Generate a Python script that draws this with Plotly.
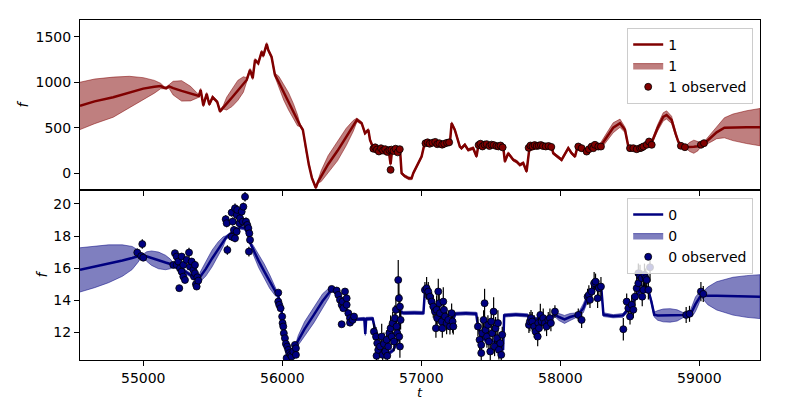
import plotly.graph_objects as go
from plotly.subplots import make_subplots

# ---------------- data: band "1" (top) ----------------
t_fit_1 = [54545, 54650, 54784, 54900, 55000, 55080, 55125, 55150, 55165, 55185, 55215, 55276, 55340, 55385,
           55400, 55413, 55432, 55456, 55475, 55499, 55516, 55532, 55552, 55576, 55600, 55640, 55680, 55720,
           55744, 55768, 55787, 55804, 55827, 55852, 55863, 55888, 55899, 55923, 55947, 55975, 56010, 56045,
           56080, 56110, 56127, 56148, 56170, 56191, 56213, 56241, 56257, 56280, 56330, 56397, 56460, 56510,
           56537, 56571, 56595, 56619, 56631, 56650, 56680, 56720, 56765, 56779, 56790, 56830, 56847, 56858,
           56880, 56910, 56930, 56942, 56978, 57002, 57026, 57080, 57150, 57206, 57218, 57241, 57277, 57289,
           57313, 57337, 57373, 57397, 57409, 57480, 57589, 57601, 57625, 57661, 57685, 57709, 57733, 57757,
           57776, 57850, 57937, 57949, 58009, 58057, 58081, 58105, 58120, 58180, 58240, 58290, 58321, 58380,
           58429, 58465, 58489, 58550, 58620, 58660, 58700, 58740, 58764, 58800, 58830, 58848, 58870, 58905,
           58930, 58960, 58990, 59011, 59033, 59052, 59090, 59124, 59180, 59242, 59340, 59436]
f_fit_1 = [740, 790, 836, 890, 930, 950, 958, 940, 935, 955, 935, 905, 875, 855,
           850, 916, 745, 872, 755, 836, 806, 784, 680, 726, 765, 835, 910, 975,
           1025, 1135, 1044, 1245, 1208, 1336, 1288, 1420, 1354, 1277, 1080, 1000, 890, 790,
           680, 580, 530, 477, 258, 93, -50, -159, -93, -30, 100, 247, 400, 520,
           587, 550, 441, 477, 367, 294, 270, 255, 255, 100, 255, 255, 257, 2,
           -30, -55, -55, 2, 112, 185, 345, 335, 325, 340, 550, 477, 294, 276,
           313, 257, 276, 184, 294, 305, 290, 129, 221, 148, 129, 93, 112, 20,
           258, 300, 290, 221, 148, 276, 221, 184, 270, 255, 285, 300, 367, 500,
           550, 477, 294, 280, 300, 350, 500, 620, 641, 587, 430, 349, 295, 290,
           290, 292, 298, 313, 325, 349, 400, 450, 500, 505, 507, 507]
sd_fit_1 = [260, 245, 220, 175, 120, 70, 30, 12, 12, 20, 75, 112, 80, 30,
            15, 15, 15, 15, 15, 15, 15, 15, 15, 20, 70, 100, 110, 85,
            25, 15, 15, 15, 15, 15, 15, 15, 15, 15, 20, 65, 85, 95,
            85, 60, 15, 15, 15, 15, 15, 15, 15, 60, 95, 110, 95, 60,
            20, 15, 15, 15, 15, 15, 15, 15, 15, 15, 15, 15, 15, 15,
            15, 15, 15, 15, 15, 15, 15, 15, 15, 15, 15, 15, 15, 15,
            15, 15, 15, 15, 15, 15, 15, 15, 15, 15, 15, 15, 15, 15,
            15, 15, 15, 15, 15, 15, 15, 15, 15, 20, 25, 35, 45, 55,
            45, 30, 15, 15, 15, 20, 35, 45, 45, 40, 25, 15, 15, 15,
            50, 72, 50, 15, 20, 30, 50, 70, 110, 146, 180, 205]

t_obs_1 = [56655, 56668, 56680, 56695, 56710, 56725, 56740, 56755, 56770, 56779, 56785, 56800, 56815, 56830, 56845,
           57030, 57045, 57060, 57080, 57100, 57115, 57130, 57150, 57165, 57185, 57200,
           57412, 57425, 57440, 57455, 57470, 57490, 57505, 57520, 57540, 57555, 57570, 57585,
           57772, 57785, 57800, 57815, 57830, 57845, 57860, 57875, 57895, 57915, 57935,
           58129, 58153, 58189, 58205, 58225, 58237, 58249, 58273, 58292,
           58501, 58525, 58549, 58573, 58585, 58597, 58621, 58638, 58657,
           58867, 58896,
           59011, 59033]
f_obs_1 = [270, 285, 260, 240, 275, 250, 265, 235, 255, 38, 260, 245, 270, 230, 265,
           330, 340, 325, 335, 345, 320, 330, 315, 325, 335, 340,
           310, 325, 295, 315, 320, 300, 315, 310, 300, 295, 305, 285,
           280, 305, 295, 310, 300, 305, 310, 300, 295, 300, 290,
           294, 276, 239, 265, 294, 276, 313, 294, 294,
           276, 276, 265, 276, 283, 294, 313, 349, 313,
           302, 287,
           313, 331]
e_obs_1 = [12, 14, 12, 15, 12, 13, 12, 14, 12, 15, 12, 13, 12, 14, 12,
           12, 13, 12, 14, 12, 13, 12, 14, 12, 13, 12,
           12, 13, 12, 14, 12, 13, 12, 14, 12, 13, 12, 14,
           12, 13, 12, 14, 12, 13, 12, 14, 12, 13, 12,
           14, 12, 13, 12, 14, 12, 13, 12, 14,
           12, 13, 12, 14, 12, 13, 12, 14, 12,
           13, 12,
           14, 13]

# ---------------- data: band "0" (bottom) ----------------
t_fit_0 = [54545, 54650, 54750, 54850, 54920, 54960, 54985, 55005, 55025, 55060, 55110, 55160, 55195, 55215,
           55250, 55290, 55330, 55365, 55396, 55410, 55450, 55495, 55540, 55575, 55595, 55630, 55670, 55700,
           55730, 55755, 55770, 55790, 55830, 55870, 55910, 55950, 55972, 55990, 56005, 56020, 56040, 56060,
           56080, 56098, 56115, 56160, 56228, 56290, 56335, 56355, 56390, 56430, 56470, 56505, 56530, 56590,
           56597, 56603, 56650, 56665, 56690, 56720, 56760, 56800, 56835, 56850, 56870, 56950, 57015, 57026,
           57060, 57100, 57150, 57200, 57232, 57245, 57320, 57395, 57408, 57440, 57480, 57530, 57570, 57588,
           57596, 57680, 57765, 57780, 57850, 57930, 57960, 57990, 58030, 58070, 58110, 58130, 58165, 58200,
           58240, 58275, 58295, 58310, 58380, 58450, 58500, 58550, 58600, 58630, 58655, 58675, 58700, 58740,
           58790, 58840, 58885, 58905, 58930, 58950, 58972, 58995, 59013, 59030, 59060, 59124, 59242, 59340,
           59436]
f_fit_0 = [15.89, 16.08, 16.27, 16.47, 16.63, 16.74, 16.80, 16.78, 16.72, 16.62, 16.48, 16.35, 16.26, 16.20,
           16.05, 15.85, 15.62, 15.42, 15.30, 15.45, 15.95, 16.60, 17.20, 17.65, 17.90, 18.15, 18.40, 18.55,
           18.50, 18.10, 17.55, 17.15, 16.45, 15.80, 15.15, 14.55, 14.25, 13.60, 12.70, 11.80, 11.05, 10.65,
           10.70, 11.20, 11.50, 12.20, 13.10, 13.95, 14.45, 14.70, 14.45, 13.90, 13.30, 12.85, 12.80, 12.83,
           11.90, 12.83, 12.85, 12.20, 11.30, 10.80, 10.65, 10.90, 11.60, 13.30, 13.20, 13.22, 13.20, 14.60,
           14.25, 13.40, 12.95, 12.80, 12.85, 13.15, 13.18, 13.15, 12.30, 11.60, 11.45, 11.40, 11.20, 10.90,
           13.05, 13.10, 13.05, 12.90, 12.80, 12.90, 13.10, 12.95, 12.80, 12.95, 13.05, 13.10, 13.50, 14.25,
           14.80, 14.90, 14.70, 13.10, 13.00, 13.05, 13.55, 14.30, 14.90, 14.70, 13.90, 13.10, 13.05, 13.05,
           13.05, 13.05, 13.07, 13.08, 13.12, 13.35, 13.75, 14.10, 14.33, 14.30, 14.27, 14.27, 14.25, 14.23,
           14.22]
sd_fit_0 = [1.38, 1.30, 1.18, 0.98, 0.72, 0.40, 0.15, 0.12, 0.30, 0.45, 0.52, 0.45, 0.30, 0.13,
            0.12, 0.12, 0.12, 0.12, 0.12, 0.30, 0.45, 0.52, 0.45, 0.30, 0.12, 0.12, 0.12, 0.12,
            0.12, 0.12, 0.12, 0.28, 0.42, 0.46, 0.42, 0.28, 0.12, 0.12, 0.12, 0.12, 0.12, 0.12,
            0.12, 0.12, 0.30, 0.45, 0.50, 0.45, 0.30, 0.12, 0.12, 0.12, 0.12, 0.12, 0.10, 0.10,
            0.10, 0.10, 0.10, 0.10, 0.12, 0.12, 0.12, 0.12, 0.12, 0.12, 0.10, 0.10, 0.10, 0.12,
            0.12, 0.12, 0.12, 0.12, 0.12, 0.10, 0.10, 0.10, 0.12, 0.12, 0.12, 0.12, 0.12, 0.12,
            0.10, 0.10, 0.10, 0.10, 0.10, 0.10, 0.12, 0.22, 0.25, 0.22, 0.15, 0.12, 0.28, 0.25,
            0.15, 0.12, 0.12, 0.12, 0.10, 0.12, 0.15, 0.15, 0.15, 0.15, 0.15, 0.15, 0.30, 0.40,
            0.42, 0.35, 0.15, 0.12, 0.12, 0.35, 0.45, 0.35, 0.12, 0.25, 0.55, 0.88, 1.18, 1.30,
            1.37]

t_obs_0 = [54957, 54985, 54993, 55000,
           55216, 55228, 55240, 55240, 55252, 55259, 55264, 55276, 55276, 55288, 55288, 55300, 55312, 55329, 55336, 55348, 55360, 55365, 55372, 55372, 55379, 55384, 55389, 55396,
           55593, 55600, 55605, 55636, 55636, 55643, 55652, 55660, 55660, 55672, 55672, 55676, 55692, 55696, 55708, 55716, 55720, 55732, 55739, 55748, 55756, 55760, 55763, 55768,
           55971, 55971, 55978, 55988, 55999, 56002, 56007, 56011, 56019, 56026, 56031, 56035, 56043, 56050, 56060, 56067, 56079, 56091, 56098, 56098,
           56355, 56391, 56403, 56415, 56427, 56427, 56434, 56439, 56451, 56463, 56463, 56475, 56487, 56487, 56506, 56516,
           56659, 56674, 56678, 56683, 56690, 56703, 56715, 56722, 56731, 56741, 56751, 56755, 56762, 56770, 56779, 56787, 56794, 56803, 56810, 56817, 56822, 56827, 56834, 56839, 56841, 56846, 56846, 56851,
           57026, 57038, 57050, 57062, 57074, 57086, 57098, 57105, 57110, 57114, 57122, 57129, 57134, 57146, 57151, 57158, 57163, 57170, 57182, 57194, 57206, 57218, 57225, 57230,
           57407, 57419, 57431, 57431, 57438, 57448, 57455, 57462, 57472, 57479, 57486, 57496, 57503, 57510, 57520, 57527, 57534, 57544, 57551, 57558, 57568, 57575, 57582,
           57774, 57781, 57789, 57798, 57812, 57822, 57837, 57841, 57846, 57856, 57865, 57877, 57889, 57901, 57913, 57925, 57932, 57961,
           58129, 58153, 58196, 58205, 58213, 58225, 58243, 58253, 58268, 58277, 58292,
           58453, 58477, 58489, 58501, 58513, 58525, 58537, 58549, 58561, 58561, 58573, 58585, 58589, 58597, 58605, 58614, 58621, 58633, 58645,
           58905, 58929,
           59011, 59028]
f_obs_0 = [16.97, 16.75, 17.50, 16.65,
           16.20, 16.93, 16.72, 16.20, 16.41, 14.75, 15.99, 15.78, 16.72, 15.47, 16.20, 15.26, 16.51, 16.97, 16.09, 16.41, 15.89, 15.47, 16.20, 15.68, 15.00, 14.85, 15.43, 15.22,
           19.05, 18.80, 17.13, 19.46, 17.96, 18.90, 18.38, 19.73, 17.86, 18.28, 19.31, 19.63, 18.80, 19.11, 19.52, 18.90, 19.83, 20.45, 18.90, 18.69, 18.49, 17.03, 18.17, 17.76,
           14.47, 13.91, 13.71, 13.50, 12.98, 12.57, 12.36, 11.94, 11.63, 11.28, 10.39, 11.11, 10.90, 10.70, 10.59, 10.49, 10.80, 11.21, 11.00, 10.59,
           14.70, 14.60, 14.33, 14.02, 13.71, 12.50, 13.91, 13.50, 14.54, 14.12, 13.71, 13.19, 12.88, 12.60, 12.77, 12.98,
           12.04, 11.73, 10.53, 11.32, 10.90, 11.11, 11.73, 10.59, 11.28, 10.80, 11.53, 10.53, 11.11, 11.94, 12.25, 11.73, 12.57, 11.42, 12.88, 13.40, 12.36, 11.94, 15.26, 14.12, 11.73, 13.60, 11.11, 12.77,
           14.64, 14.75, 14.54, 14.22, 13.91, 13.60, 13.29, 12.25, 13.40, 12.88, 14.54, 13.81, 13.19, 12.67, 12.25, 13.91, 13.40, 12.98, 12.57, 12.77, 12.36, 13.19, 12.67, 12.36,
           12.36, 11.53, 11.21, 10.70, 11.94, 12.77, 13.81, 12.15, 11.73, 12.46, 11.42, 10.80, 12.67, 11.94, 13.29, 11.11, 12.25, 11.63, 12.57, 10.90, 11.32, 10.59, 11.84,
           12.46, 12.67, 12.88, 12.67, 12.36, 12.04, 11.73, 12.57, 12.25, 13.08, 12.67, 12.88, 12.57, 12.36, 12.77, 12.88, 12.57, 13.29,
           13.08, 12.77, 14.22, 14.33, 14.02, 14.54, 15.06, 15.16, 14.12, 14.75, 14.85,
           12.19, 13.91, 13.50, 12.98, 13.71, 13.40, 14.22, 14.75, 15.06, 15.68, 15.51, 15.37, 14.22, 14.64, 15.58, 15.37, 15.26, 14.64, 16.05,
           13.08, 13.15,
           14.54, 14.39]
e_obs_0 = [0.25, 0.2, 0.3, 0.2,
           0.2, 0.2, 0.2, 0.2, 0.2, 0.15, 0.2, 0.2, 0.2, 0.2, 0.2, 0.2, 0.2, 0.3, 0.2, 0.2, 0.2, 0.2, 0.2, 0.2, 0.2, 0.2, 0.2, 0.2,
           0.25, 0.25, 0.3, 0.25, 0.25, 0.25, 0.25, 0.3, 0.25, 0.25, 0.25, 0.25, 0.25, 0.3, 0.25, 0.25, 0.25, 0.3, 0.25, 0.25, 0.25, 0.3, 0.25, 0.25,
           0.15, 0.15, 0.15, 0.15, 0.15, 0.15, 0.15, 0.15, 0.15, 0.15, 0.15, 0.15, 0.15, 0.15, 0.15, 0.15, 0.15, 0.15, 0.15, 0.15,
           0.15, 0.15, 0.15, 0.15, 0.15, 0.15, 0.15, 0.15, 0.15, 0.15, 0.15, 0.15, 0.15, 0.15, 0.15, 0.15,
           0.5, 0.6, 0.5, 0.7, 0.6, 0.5, 0.8, 0.6, 0.7, 0.5, 0.6, 0.5, 0.7, 0.6, 0.8, 0.5, 0.7, 0.6, 0.8, 0.7, 0.6, 0.5, 1.25, 0.9, 0.6, 0.8, 0.7, 0.6,
           0.5, 0.7, 0.6, 0.5, 0.6, 0.7, 0.5, 0.6, 0.9, 0.5, 0.8, 0.6, 0.7, 0.5, 0.6, 0.9, 0.6, 0.5, 0.7, 0.6, 0.5, 0.6, 0.7, 0.5,
           0.6, 0.7, 0.5, 0.6, 0.8, 0.6, 0.9, 0.5, 0.7, 0.6, 0.8, 0.6, 0.7, 0.5, 0.9, 0.6, 0.7, 0.5, 0.8, 0.6, 0.7, 0.6, 0.5,
           0.5, 0.6, 0.5, 0.6, 0.7, 0.5, 0.6, 0.5, 0.6, 0.7, 0.5, 0.6, 0.5, 0.6, 0.5, 0.6, 0.5, 0.4,
           0.4, 0.5, 0.5, 0.6, 0.5, 0.6, 0.7, 0.5, 0.6, 0.5, 0.6,
           0.7, 0.5, 0.6, 0.5, 0.6, 0.5, 0.6, 0.7, 0.5, 0.6, 0.7, 0.5, 0.6, 0.5, 0.7, 0.6, 0.5, 0.6, 0.9,
           0.5, 0.5,
           0.6, 0.5]

x_range = [54545, 59436]
y_range_1 = [-183, 1683]
y_range_0 = [10.27, 20.87]
x_ticks = [55000, 56000, 57000, 58000, 59000]
y_ticks_1 = [0, 500, 1000, 1500]
y_ticks_0 = [12, 14, 16, 18, 20]

FONT = "DejaVu Sans"

fig = make_subplots(rows=2, cols=1, shared_xaxes=True, vertical_spacing=0)


def add_panel(row, t_fit, f_fit, sd_fit, t_obs, f_obs, e_obs, name, line_col, band_col, edge_col, legend):
    upper = [m + s for m, s in zip(f_fit, sd_fit)]
    lower = [m - s for m, s in zip(f_fit, sd_fit)]
    fig.add_trace(go.Scatter(
        x=list(t_fit) + list(t_fit)[::-1], y=upper + lower[::-1],
        fill="toself", fillcolor=band_col, mode="lines",
        line=dict(color=edge_col, width=1), name=name, legend=legend,
        legendrank=2, hoverinfo="skip"), row=row, col=1)
    fig.add_trace(go.Scatter(
        x=t_fit, y=f_fit, mode="lines", line=dict(color=line_col, width=2.5),
        name=name, legend=legend, legendrank=1), row=row, col=1)
    fig.add_trace(go.Scatter(
        x=t_obs, y=f_obs, mode="markers",
        marker=dict(size=7, color=line_col, line=dict(color="black", width=0.8)),
        error_y=dict(type="data", array=e_obs, color="black", thickness=1.2, width=0),
        name=name + " observed", legend=legend, legendrank=3), row=row, col=1)


add_panel(1, t_fit_1, f_fit_1, sd_fit_1, t_obs_1, f_obs_1, e_obs_1, "1",
          "#800000", "rgba(128,0,0,0.5)", "rgba(128,0,0,0.5)", "legend")
add_panel(2, t_fit_0, f_fit_0, sd_fit_0, t_obs_0, f_obs_0, e_obs_0, "0",
          "#000080", "rgba(0,0,128,0.5)", "rgba(0,0,128,0.5)", "legend2")

axis_common = dict(showline=True, linecolor="black", linewidth=1, mirror=True,
                   ticks="outside", ticklen=5, tickwidth=1, tickcolor="black",
                   showgrid=False, zeroline=False, automargin=False,
                   tickfont=dict(family=FONT, size=14, color="black"))

fig.update_xaxes(range=x_range, tickvals=x_ticks, tickformat="d", **axis_common)
fig.update_xaxes(showticklabels=False, row=1, col=1)
fig.update_yaxes(range=y_range_1, tickvals=y_ticks_1, row=1, col=1,
                 title=dict(text="<i>f</i>", font=dict(family=FONT, size=14, color="black"), standoff=3),
                 **axis_common)
fig.update_yaxes(range=y_range_0, tickvals=y_ticks_0, row=2, col=1,
                 title=dict(text="<i>f</i>", font=dict(family=FONT, size=14, color="black"), standoff=2),
                 **axis_common)

# x-axis title placed as an annotation just under the tick labels
fig.add_annotation(text="<i>t</i>", xref="paper", yref="paper", x=0.5, y=-0.0945,
                   xanchor="center", yanchor="middle", showarrow=False, borderpad=0,
                   font=dict(family=FONT, size=13, color="black"))

legend_style = dict(bgcolor="rgba(255,255,255,0.8)", bordercolor="#cccccc", borderwidth=1,
                    font=dict(family=FONT, size=14, color="black"),
                    xanchor="right", yanchor="top", traceorder="normal",
                    itemwidth=30, tracegroupgap=0)
# the page body adds an 8 px offset, so the margins are trimmed on the left/top
fig.update_layout(
    width=800, height=400,
    margin=dict(l=72, r=48, t=12, b=48, autoexpand=False),
    paper_bgcolor="white", plot_bgcolor="white",
    font=dict(family=FONT, size=14, color="black"),
    showlegend=True,
    legend=dict(x=0.99, y=0.977, **legend_style),
    legend2=dict(x=0.99, y=0.477, **legend_style),
)

fig.write_html("out.html")
